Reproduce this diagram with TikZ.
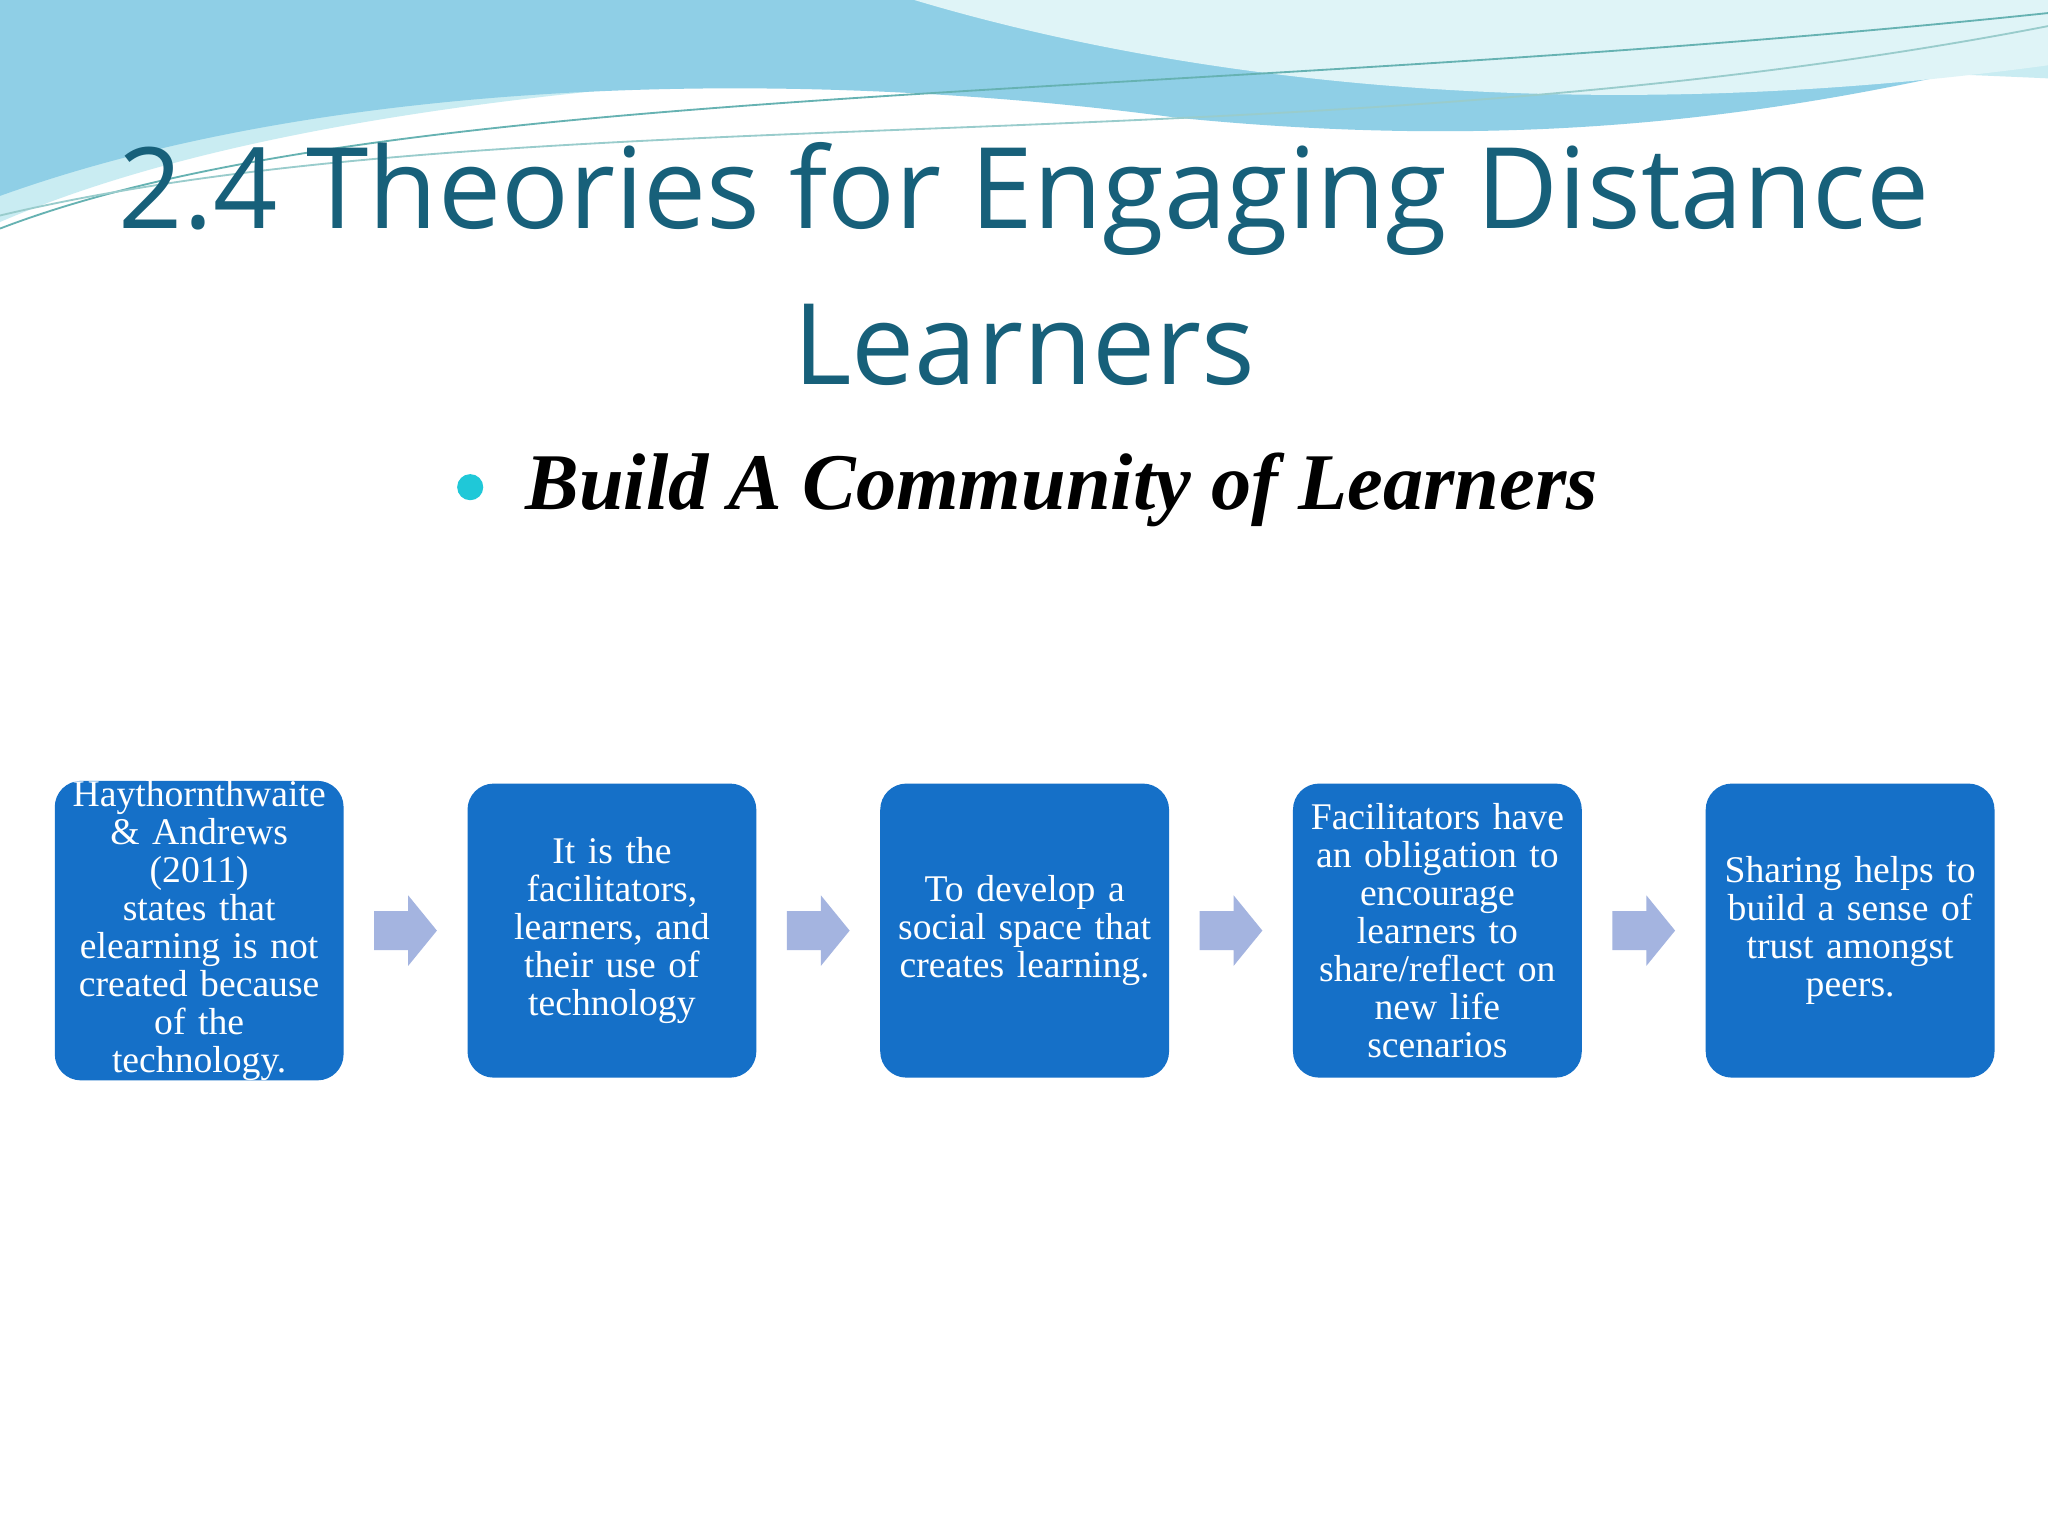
\documentclass[tikz,border=0pt]{standalone}
\usepackage{fontspec}
\setmainfont{Liberation Serif}
\newfontfamily\titlefont{Open Sans}
\usetikzlibrary{calc}
\definecolor{boxblue}{HTML}{1570C8}
\definecolor{titleteal}{HTML}{17607A}
\definecolor{arrowblue}{HTML}{A4B4E0}
\definecolor{wave1}{HTML}{8FCFE6}
\definecolor{wave2}{HTML}{C9ECF2}
\definecolor{bulletc}{HTML}{1FC8D8}
\tikzset{
  stepbox/.style={rectangle, rounded corners=0.2cm, fill=boxblue, minimum width=2.21cm, minimum height=2.25cm, text width=2.15cm, align=center, text=white, font=\fontsize{8.2}{8.25}\selectfont, inner sep=0pt},
  flowarrow/.style={fill=arrowblue}
}
\begin{document}
\begin{tikzpicture}[x=0.01cm,y=-0.01cm]
\useasboundingbox (0,0) rectangle (1568,1176);
\fill[white!96!blue!2] (0,0) rectangle (1568,1176);
% top waves
\fill[wave2] (0,0) -- (0,170) .. controls (300,40) and (900,30) .. (1568,60) -- (1568,0) -- cycle;
\fill[wave1] (0,0) -- (0,150) .. controls (250,60) and (600,50) .. (900,90) .. controls (1200,120) and (1400,80) .. (1568,40) -- (1568,0) -- cycle;
\fill[wave2!60!white] (700,0) .. controls (900,60) and (1200,100) .. (1568,50) -- (1568,0) -- cycle;
\draw[teal!60, thin] (0,175) .. controls (300,60) and (900,80) .. (1568,10);
\draw[teal!40, thin] (0,165) .. controls (400,70) and (1000,130) .. (1568,20);
% title
\node[font=\titlefont\fontsize{24.5}{34}\selectfont, text=titleteal, align=center] (title) at (784,202) {2.4 Theories for Engaging Distance\\Learners};
\node[font=\fontsize{17.5}{20}\selectfont\bfseries\itshape, anchor=west] (sub) at (390,375) {Build A Community of Learners};
\fill[bulletc] (360,373) circle (10);
% boxes
\node[stepbox] (b1) at (152.5,712.5) {Haythornthwaite\\\& Andrews (2011)\\states that\\elearning is not\\created because\\of the\\technology.};
\node[stepbox] (b2) at (468.5,712.5) {It is the\\facilitators,\\learners, and\\their use of\\technology};
\node[stepbox] (b3) at (784.5,712.5) {To develop a\\social space that\\creates learning.};
\node[stepbox] (b4) at (1100.5,712.5) {Facilitators have\\an obligation to\\encourage\\learners to\\share/reflect on\\new life\\scenarios};
\node[stepbox] (b5) at (1416.5,712.5) {Sharing helps to\\build a sense of\\trust amongst\\peers.};
\foreach \a/\b in {b1/b2,b2/b3,b3/b4,b4/b5}{
  \coordinate (m) at ($(\a.east)!0.5!(\b.west)$);
  \fill[flowarrow] ($(m)+(-24,-15)$) -- ($(m)+(2,-15)$) -- ($(m)+(2,-27)$) -- ($(m)+(24,0)$) -- ($(m)+(2,27)$) -- ($(m)+(2,15)$) -- ($(m)+(-24,15)$) -- cycle;
}
\end{tikzpicture}
\end{document}
